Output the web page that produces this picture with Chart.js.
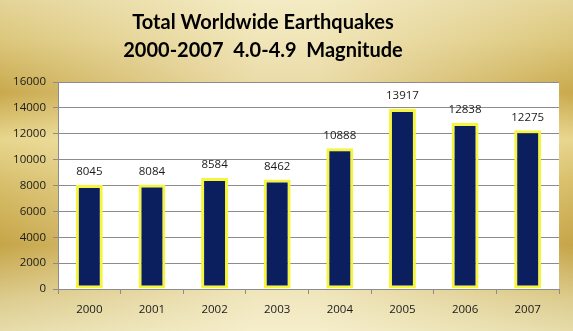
<!DOCTYPE html>
<html>
<head>
<meta charset="utf-8">
<script src="https://cdn.jsdelivr.net/npm/chart.js@4/dist/chart.umd.min.js"></script>
<style>
  html, body { margin: 0; padding: 0; background: #e6d596; }
  #wrap { width: 573px; height: 331px; }
</style>
</head>
<body>
<div id="wrap"><canvas id="chart" width="573" height="331"></canvas></div>
<script>
// Chart data
const years = ['2000', '2001', '2002', '2003', '2004', '2005', '2006', '2007'];
const quakeCounts = [8045, 8084, 8584, 8462, 10888, 13917, 12838, 12275];
const titleLines = ['Total Worldwide Earthquakes', '2000-2007  4.0-4.9  Magnitude'];

const labelFont = '"Open Sans", "DejaVu Sans", sans-serif';

// Gold metallic backdrop + white plot area
const backdrop = {
    id: 'backdrop',
    beforeDraw(chart) {
        const { ctx, width, height, chartArea } = chart;
        ctx.save();
        const v = ctx.createLinearGradient(0, 0, 0, height);
        v.addColorStop(0.00, '#e4d498');
        v.addColorStop(0.12, '#dcc77c');
        v.addColorStop(0.28, '#c9a94d');
        v.addColorStop(0.42, '#e8d68e');
        v.addColorStop(0.55, '#d8bf6c');
        v.addColorStop(0.74, '#c6a548');
        v.addColorStop(0.90, '#dccb8c');
        v.addColorStop(1.00, '#e6dcaa');
        ctx.fillStyle = v;
        ctx.fillRect(0, 0, width, height);
        const h = ctx.createLinearGradient(0, 0, width, 0);
        h.addColorStop(0.00, 'rgba(255,250,225,0)');
        h.addColorStop(0.45, 'rgba(255,250,225,0.6)');
        h.addColorStop(0.55, 'rgba(255,250,225,0.6)');
        h.addColorStop(1.00, 'rgba(255,250,225,0)');
        ctx.fillStyle = h;
        ctx.fillRect(0, 0, width, height);
        ctx.fillStyle = '#ffffff';
        ctx.fillRect(chartArea.left, chartArea.top, chartArea.right - chartArea.left, chartArea.bottom - chartArea.top);
        ctx.restore();
    }
};

// Two-line bold heading
const heading = {
    id: 'heading',
    afterDraw(chart) {
        const { ctx } = chart;
        ctx.save();
        ctx.fillStyle = '#000000';
        ctx.font = 'bold 20px Lato, "DejaVu Sans", sans-serif';
        ctx.textAlign = 'center';
        ctx.textBaseline = 'alphabetic';
        ctx.fillText(titleLines[0], 263, 29);
        ctx.fillText(titleLines[1], 263, 57);
        ctx.restore();
    }
};

// Value above each bar
const valueLabels = {
    id: 'valueLabels',
    afterDatasetsDraw(chart) {
        const { ctx } = chart;
        const meta = chart.getDatasetMeta(0);
        ctx.save();
        ctx.fillStyle = '#1a1a1a';
        ctx.font = '11.5px ' + labelFont;
        ctx.textAlign = 'center';
        ctx.textBaseline = 'alphabetic';
        meta.data.forEach((bar, i) => {
            ctx.fillText(String(quakeCounts[i]), bar.x, bar.y - 9.5);
        });
        ctx.restore();
    }
};

const ctx = document.getElementById('chart').getContext('2d');
const chart = new Chart(ctx, {
    type: 'bar',
    data: {
        labels: years,
        datasets: [{
            data: quakeCounts,
            backgroundColor: '#0b1f5e',
            borderColor: '#f5f53a',
            borderWidth: 3,
            borderSkipped: false,
            barPercentage: 0.43,
            categoryPercentage: 1
        }]
    },
    options: {
        responsive: false,
        animation: false,
        layout: { padding: { top: 82, right: 14, bottom: 0, left: 0 } },
        plugins: {
            legend: { display: false },
            title: { display: false },
            tooltip: { enabled: false }
        },
        scales: {
            x: {
                afterFit(scale) { scale.height = 42; },
                grid: {
                    offset: true,
                    drawOnChartArea: false,
                    drawTicks: true,
                    tickLength: 5,
                    color: '#8c8c8c'
                },
                border: { color: '#8c8c8c' },
                ticks: {
                    color: '#1a1a1a',
                    padding: 9,
                    font: { family: labelFont, size: 11.5 }
                }
            },
            y: {
                min: 0,
                max: 16000,
                afterFit(scale) { scale.width = 58; },
                grid: {
                    color: '#8c8c8c',
                    tickLength: 5
                },
                border: { color: '#8c8c8c' },
                ticks: {
                    stepSize: 2000,
                    color: '#1a1a1a',
                    padding: 7,
                    font: { family: labelFont, size: 11.5 },
                    callback: (value) => String(value)
                }
            }
        }
    },
    plugins: [backdrop, heading, valueLabels]
});
</script>
</body>
</html>
